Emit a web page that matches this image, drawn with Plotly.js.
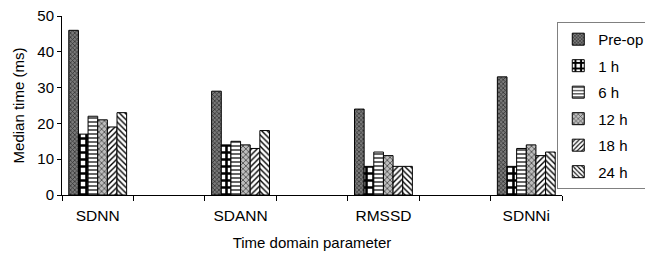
<!DOCTYPE html>
<html><head><meta charset="utf-8">
<script src="https://cdn.plot.ly/plotly-3.0.1.min.js"></script>
<style>html,body{margin:0;padding:0;background:#fff}#c{width:645px;height:255px}</style>
</head><body><div id="c"></div>
<script>
const categories = ["SDNN", " ", "SDANN", "  ", "RMSSD", "   ", "SDNNi"];
const seriesNames = ["Pre-op", "1 h", "6 h", "12 h", "18 h", "24 h"];
const preOp = [46, null, 29, null, 24, null, 33];
const h1    = [17, null, 14, null, 8, null, 8];
const h6    = [22, null, 15, null, 12, null, 13];
const h12   = [21, null, 14, null, 11, null, 14];
const h18   = [19, null, 13, null, 8, null, 11];
const h24   = [23, null, 18, null, 8, null, 12];
const yTicks = [0, 10, 20, 30, 40, 50];

const seriesValues = [preOp, h1, h6, h12, h18, h24];
const patterns = [
  {shape: "x", bgcolor: "#7a7a7a", fgcolor: "#2a2a2a", size: 3, solidity: 0.4, fillmode: "replace"},
  {shape: "+", bgcolor: "#ffffff", fgcolor: "#000000", size: 7, solidity: 0.6, fillmode: "replace"},
  {shape: "-", bgcolor: "#ffffff", fgcolor: "#000000", size: 4, solidity: 0.3, fillmode: "replace"},
  {shape: "x", bgcolor: "#bdbdbd", fgcolor: "#404040", size: 4, solidity: 0.35, fillmode: "replace"},
  {shape: "/", bgcolor: "#ffffff", fgcolor: "#000000", size: 4, solidity: 0.35, fillmode: "replace"},
  {shape: "\\", bgcolor: "#ffffff", fgcolor: "#000000", size: 4, solidity: 0.35, fillmode: "replace"}
];
const traces = seriesNames.map((n, i) => ({
  type: "bar", name: n, x: categories, y: seriesValues[i],
  legendgroup: "g" + i,
  marker: {color: "#ffffff", pattern: patterns[i], line: {color: "#000000", width: 1}}
}));
const font = "Arial, 'Liberation Sans', sans-serif";
const layout = {
  width: 645, height: 255,
  margin: {l: 62, r: 83, t: 16, b: 60, autoexpand: false},
  paper_bgcolor: "#ffffff", plot_bgcolor: "#ffffff",
  font: {family: font, size: 15, color: "#000000"},
  barmode: "group", bargap: 0.19, bargroupgap: 0,
  showlegend: true,
  legend: {xref: "container", yref: "container", x: 0.864, xanchor: "left", y: 0.914, yanchor: "top",
    bgcolor: "rgba(255,255,255,0)",
    bordercolor: "#808080", borderwidth: 1, font: {family: font, size: 15},
    tracegroupgap: 4, itemwidth: 30, maxheight: 1},
  xaxis: {type: "category", categoryorder: "array", categoryarray: categories,
    tickson: "boundaries", ticks: "outside", ticklen: 5, tickcolor: "#000000",
    ticklabelstandoff: 6,
    showline: true, linecolor: "#000000", linewidth: 1, showgrid: false,
    tickfont: {family: font, size: 15.5},
    title: {text: "Time domain parameter", font: {family: font, size: 15}, standoff: 14}},
  yaxis: {range: [0, 50], tickvals: yTicks, ticks: "outside", ticklen: 4, tickcolor: "#000000",
    showline: true, linecolor: "#000000", linewidth: 1, showgrid: false, zeroline: false,
    tickfont: {family: font, size: 15},
    title: {text: "Median time (ms)", font: {family: font, size: 15}, standoff: 9}}
};
Plotly.newPlot("c", traces, layout, {displayModeBar: false, staticPlot: true});
</script></body></html>
